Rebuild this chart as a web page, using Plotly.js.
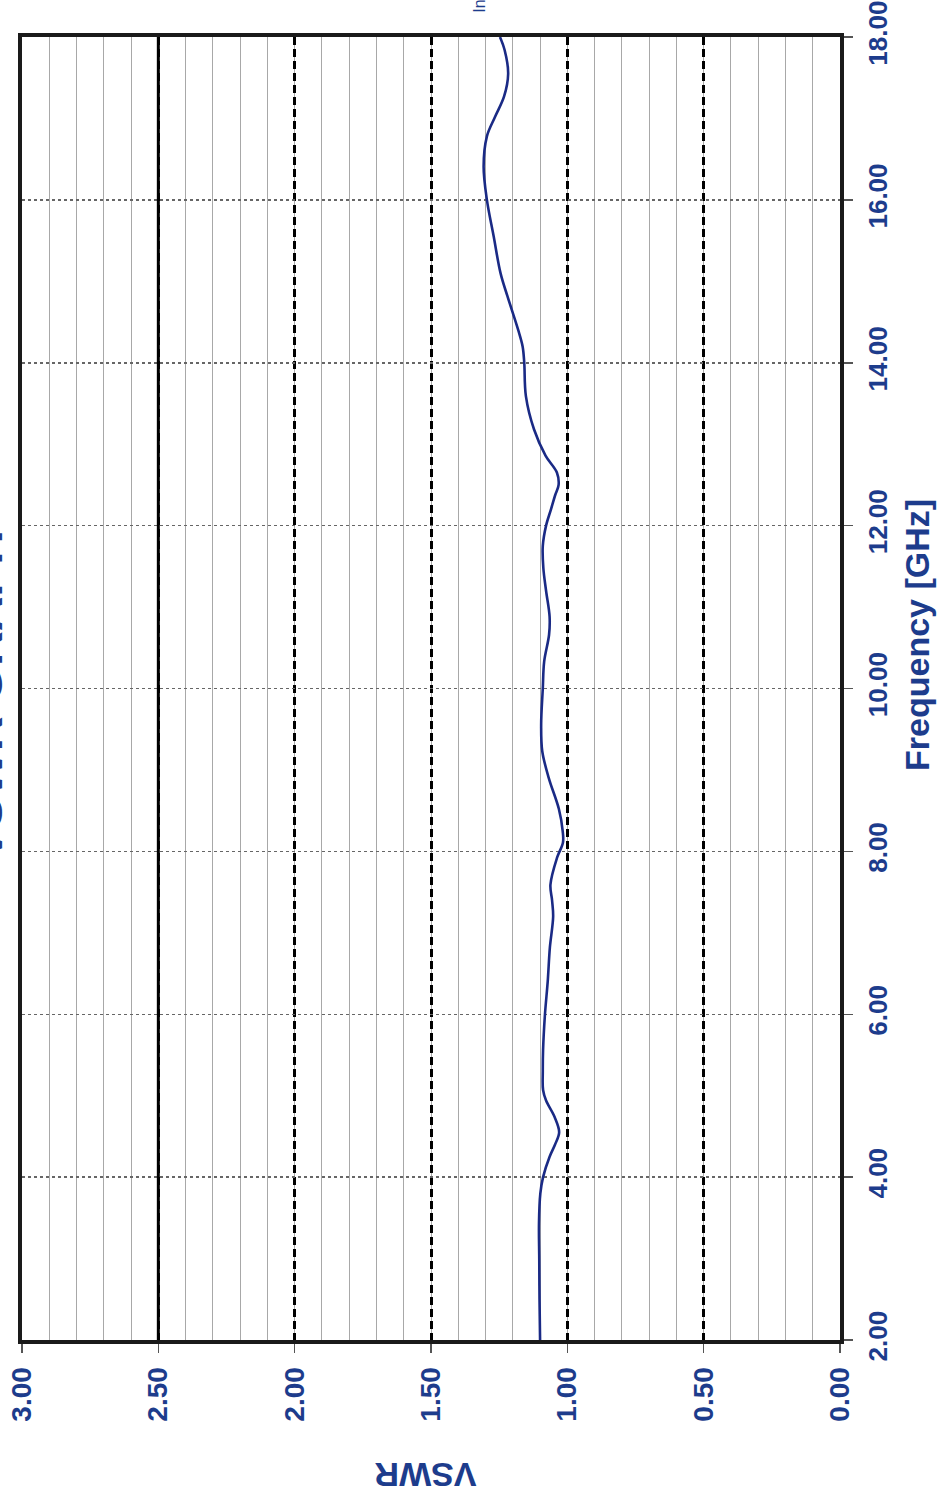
<!DOCTYPE html>
<html>
<head>
<meta charset="utf-8">
<script src="https://cdn.plot.ly/plotly-3.0.1.min.js"></script>
<style>html,body{margin:0;padding:0;background:#fff;}#chart{width:938px;height:1497px;}</style>
</head>
<body>
<div id="chart"></div>
<script>
// Frequency [GHz]
const freqGHz = [2.0,2.5,3.0,3.43,3.8,4.0,4.25,4.4,4.55,4.74,4.94,5.07,5.3,5.56,6.0,6.4,6.82,7.2,7.4,7.59,7.92,8.11,8.25,8.52,8.9,9.23,9.56,10.0,10.33,10.66,10.88,11.2,11.48,11.75,12.0,12.2,12.37,12.5,12.65,12.86,13.18,13.59,14.0,14.2,14.4,14.82,15.1,15.55,16.0,16.41,16.78,17.02,17.27,17.55,17.84,18.0];
// VSWR
const vswr = [1.100,1.102,1.103,1.104,1.099,1.089,1.065,1.045,1.030,1.047,1.078,1.089,1.090,1.089,1.082,1.072,1.064,1.052,1.056,1.062,1.038,1.016,1.017,1.031,1.068,1.092,1.096,1.090,1.085,1.067,1.065,1.078,1.088,1.090,1.078,1.060,1.045,1.032,1.038,1.080,1.122,1.152,1.158,1.164,1.180,1.220,1.245,1.270,1.295,1.307,1.295,1.265,1.232,1.217,1.230,1.247];
const limitVSWR = 2.5;
const freqRange = [2, 18];
const vswrRange = [3, 0];
const vswrTicks = [0, 0.5, 1.0, 1.5, 2.0, 2.5, 3.0];
const freqTicks = [2, 4, 6, 8, 10, 12, 14, 16, 18];

const blue = '#1d3c8c';
const fontFam = 'Liberation Sans, Arial, sans-serif';

const traces = [
  {x: [limitVSWR, limitVSWR], y: freqRange, mode: 'lines', line: {color: '#000', width: 3}, hoverinfo: 'skip', showlegend: false},
  {x: vswr, y: freqGHz, mode: 'lines', line: {color: '#1a2a85', width: 2.6, shape: 'spline', smoothing: 1}, showlegend: false}
];

const layout = {
  width: 938, height: 1497,
  margin: {l: 22, r: 98, t: 37, b: 157},
  paper_bgcolor: '#fff', plot_bgcolor: '#fff',
  showlegend: false,
  xaxis: {
    range: vswrRange, tickvals: vswrTicks, tickformat: '.2f',
    tickangle: -90, ticks: 'outside', ticklen: 9, tickcolor: '#555', tickwidth: 1.5,
    ticklabelstandoff: 3,
    tickfont: {family: fontFam, size: 28, color: blue, weight: 'bold'},
    showgrid: true, gridcolor: '#000', gridwidth: 3, griddash: '8px,4px',
    minor: {dtick: 0.1, showgrid: true, gridcolor: '#a8a8a8', gridwidth: 1, griddash: 'solid'},
    showline: true, mirror: true, linecolor: '#1a1a1a', linewidth: 4,
    zeroline: false
  },
  yaxis: {
    range: freqRange, tickvals: freqTicks, tickformat: '.2f', side: 'right',
    tickangle: -90, ticks: 'outside', ticklen: 9, tickcolor: '#555', tickwidth: 1.5,
    ticklabelstandoff: 3,
    tickfont: {family: fontFam, size: 26, color: blue, weight: 'bold'},
    showgrid: true, gridcolor: '#666', gridwidth: 1.5, griddash: 'dot',
    showline: true, mirror: true, linecolor: '#1a1a1a', linewidth: 4,
    zeroline: false
  },
  annotations: [
    {text: 'Frequency [GHz]', xref: 'paper', yref: 'paper', x: 1.094, y: 0.541, textangle: -90,
     showarrow: false, xanchor: 'center', yanchor: 'middle',
     font: {family: fontFam, size: 34, color: blue, weight: 'bold'}},
    {text: 'VSWR', xref: 'paper', yref: 'paper', x: 0.493, y: -0.1036, textangle: 180,
     showarrow: false, xanchor: 'center', yanchor: 'middle',
     font: {family: fontFam, size: 34, color: blue, weight: 'bold'}},
    {text: 'VSWR GRAPH', xref: 'paper', yref: 'paper', x: -0.0108, y: 0.495, textangle: -90,
     showarrow: false, xanchor: 'right', yanchor: 'middle',
     font: {family: fontFam, size: 48, color: blue, weight: 'bold'}},
    {text: 'In', xref: 'paper', yref: 'paper', x: 0.5599, y: 1.0175, textangle: -90,
     showarrow: false, xanchor: 'center', yanchor: 'bottom',
     font: {family: fontFam, size: 16, color: blue}}
  ]
};

Plotly.newPlot('chart', traces, layout, {displayModeBar: false, staticPlot: true});
</script>
</body>
</html>
